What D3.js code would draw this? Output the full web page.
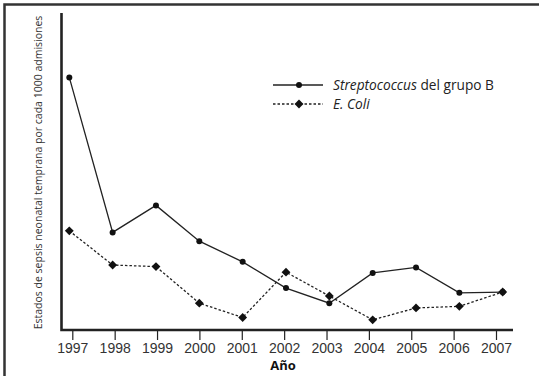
<!DOCTYPE html>
<html>
<head>
<meta charset="utf-8">
<script src="https://cdn.jsdelivr.net/npm/d3@7"></script>
<style>
    body { margin: 0; background: #fff; }
    svg { display: block; font-family: "Open Sans", "Noto Sans", sans-serif; }
</style>
</head>
<body>
<div id="chart"></div>
<script>
// Data (no y ticks shown, arbitrary units)
const years = [1997, 1998, 1999, 2000, 2001, 2002, 2003, 2004, 2005, 2006, 2007];
const strepValues = [3.19, 1.24, 1.58, 1.13, 0.87, 0.54, 0.35, 0.73, 0.80, 0.48, 0.49];
const coliValues = [1.26, 0.83, 0.81, 0.35, 0.17, 0.74, 0.44, 0.14, 0.29, 0.31, 0.49];
const seriesNames = ["Streptococcus", "E. Coli"];

const width = 539,
    height = 376;

const svg = d3.select("#chart")
    .append("svg")
    .attr("width", width)
    .attr("height", height);

// Frame (top and left only)
svg.append("path")
    .attr("d", "M4.5," + height + "V4.5H" + width)
    .attr("fill", "none")
    .attr("stroke", "#333")
    .attr("stroke-width", 2.5);

// Scales: tick positions and plotted points are slightly apart in the original
const xAxisScale = d3.scaleLinear()
    .domain([1997, 2007])
    .range([72.3, 496]);

const x = d3.scaleLinear()
    .domain([1997, 2007])
    .range([69.3, 502.7]);

const y = d3.scaleLinear()
    .domain([0, 4])
    .range([331, 13]);

// X axis
const xAxis = svg.append("g")
    .attr("transform", "translate(0,331)")
    .call(d3.axisBottom(xAxisScale)
        .tickValues(years)
        .tickFormat(d3.format("d"))
        .tickSize(9)
        .tickSizeOuter(0));

xAxis.select(".domain").remove();
xAxis.selectAll(".tick line")
    .attr("stroke", "#222")
    .attr("stroke-width", 1.2);
xAxis.selectAll(".tick text")
    .attr("y", 12)
    .attr("fill", "#333")
    .style("font-size", "14px");

// Axis lines
svg.append("path")
    .attr("d", "M61.5,13V330H513")
    .attr("fill", "none")
    .attr("stroke", "#222")
    .attr("stroke-width", 2.6);

// Axis titles
svg.append("text")
    .attr("x", 283)
    .attr("y", 370)
    .attr("text-anchor", "middle")
    .attr("fill", "#111")
    .style("font-size", "13px")
    .style("font-weight", 700)
    .text("Año");

svg.append("text")
    .attr("transform", "translate(42,172.5) rotate(-90)")
    .attr("text-anchor", "middle")
    .attr("fill", "#333")
    .style("font-size", "10.5px")
    .text("Estados de sepsis neonatal temprana por cada 1000 admisiones");

// Lines
const line = d3.line()
    .x((d, i) => x(years[i]))
    .y(d => y(d));

svg.append("path")
    .datum(strepValues)
    .attr("d", line)
    .attr("fill", "none")
    .attr("stroke", "#222")
    .attr("stroke-width", 1.3);

svg.append("path")
    .datum(coliValues)
    .attr("d", line)
    .attr("fill", "none")
    .attr("stroke", "#222")
    .attr("stroke-width", 1.3)
    .attr("stroke-dasharray", "2.5,2");

// Markers
const diamond = d3.symbol().type(d3.symbolDiamond2).size(50);

svg.selectAll(".dot")
    .data(strepValues)
    .enter().append("circle")
    .attr("class", "dot")
    .attr("cx", (d, i) => x(years[i]))
    .attr("cy", d => y(d))
    .attr("r", 3)
    .attr("fill", "#111");

svg.selectAll(".diamond")
    .data(coliValues)
    .enter().append("path")
    .attr("class", "diamond")
    .attr("transform", (d, i) => "translate(" + x(years[i]) + "," + y(d) + ")")
    .attr("d", diamond)
    .attr("fill", "#111");

// Legend
const legend = svg.append("g");

legend.append("line")
    .attr("x1", 273).attr("x2", 323)
    .attr("y1", 85).attr("y2", 85)
    .attr("stroke", "#222")
    .attr("stroke-width", 1.3);
legend.append("circle")
    .attr("cx", 299).attr("cy", 85).attr("r", 3)
    .attr("fill", "#111");

legend.append("line")
    .attr("x1", 273).attr("x2", 323)
    .attr("y1", 104).attr("y2", 104)
    .attr("stroke", "#222")
    .attr("stroke-width", 1.3)
    .attr("stroke-dasharray", "2.5,2");
legend.append("path")
    .attr("transform", "translate(299,104)")
    .attr("d", diamond)
    .attr("fill", "#111");

const t1 = legend.append("text")
    .attr("x", 333)
    .attr("y", 89.5)
    .attr("fill", "#222")
    .style("font-size", "13.7px");
t1.append("tspan").style("font-style", "italic").text(seriesNames[0]);
t1.append("tspan").text(" del grupo B");

legend.append("text")
    .attr("x", 333)
    .attr("y", 109)
    .attr("fill", "#222")
    .style("font-size", "13.7px")
    .style("font-style", "italic")
    .text(seriesNames[1]);
</script>
</body>
</html>
